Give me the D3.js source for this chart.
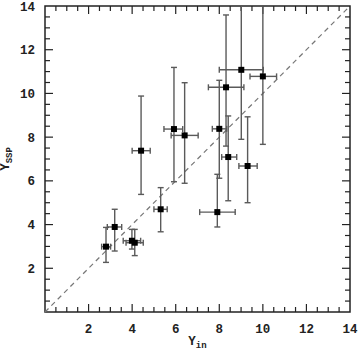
<!DOCTYPE html>
<html>
<head>
<meta charset="utf-8">
<script src="https://cdn.jsdelivr.net/npm/d3@7"></script>
<style>
  html, body { margin: 0; padding: 0; background: #fff; }
  svg { display: block; }
</style>
</head>
<body>
<svg id="chart" width="358" height="352"></svg>
<script>
// Upsilon_in vs Upsilon_SSP, with asymmetric errors
var upsIn   = [4.41, 5.92, 6.41, 8.00, 9.01, 10.00, 8.31, 9.30, 2.80, 3.20, 3.99, 4.12, 5.31, 7.91, 8.41];
var inLo    = [0.41, 0.46, 0.62, 0.32, 1.01, 0.59, 0.81, 0.40, 0.20, 0.34, 0.40, 0.40, 0.31, 0.81, 0.30];
var inHi    = [0.42, 0.40, 0.62, 0.34, 1.01, 0.63, 0.82, 0.44, 0.21, 0.32, 0.40, 0.39, 0.30, 0.82, 0.39];
var upsSsp  = [7.38, 8.37, 8.08, 8.38, 11.08, 10.78, 10.28, 6.68, 2.99, 3.89, 3.26, 3.17, 4.70, 4.57, 7.09];
var sspLo   = [2.00, 2.41, 2.19, 2.26, 3.18, 3.11, 2.69, 1.68, 0.72, 1.10, 0.38, 0.59, 1.03, 0.68, 2.00];
var sspHi   = [2.50, 2.82, 2.41, 2.22, 3.40, 3.40, 3.31, 2.25, 0.88, 0.81, 0.52, 0.61, 0.99, 1.73, 1.88];

var xTicks = [2, 4, 6, 8, 10, 12, 14];
var yTicks = [2, 4, 6, 8, 10, 12, 14];

var margin = { left: 45, top: 6, right: 8, bottom: 40 };
var width = 358, height = 352;
var plotW = width - margin.left - margin.right;
var plotH = height - margin.top - margin.bottom;

var svg = d3.select("#chart");
var g = svg.append("g").attr("transform", "translate(" + margin.left + "," + margin.top + ")");

var x = d3.scaleLinear().domain([0, 14]).range([0, plotW]);
var y = d3.scaleLinear().domain([0, 14]).range([plotH, 0]);

var font = "'Liberation Mono', 'Courier New', monospace";
var axisColor = "#222";

g.append("defs").append("clipPath").attr("id", "clip")
  .append("rect").attr("width", plotW).attr("height", plotH);

// ticks on all four sides, pointing inward
var minor = d3.range(0.5, 14, 0.5);
function isMajor(v) { return Math.abs(v / 2 - Math.round(v / 2)) < 1e-6; }

var ticks = g.append("g").attr("stroke", axisColor).attr("stroke-width", 1.2);
minor.forEach(function(v) {
  var len = isMajor(v) ? 8 : 5;
  ticks.append("line").attr("x1", x(v)).attr("x2", x(v)).attr("y1", plotH).attr("y2", plotH - len);
  ticks.append("line").attr("x1", x(v)).attr("x2", x(v)).attr("y1", 0).attr("y2", len);
  ticks.append("line").attr("y1", y(v)).attr("y2", y(v)).attr("x1", 0).attr("x2", len);
  ticks.append("line").attr("y1", y(v)).attr("y2", y(v)).attr("x1", plotW).attr("x2", plotW - len);
});

// frame
g.append("rect").attr("width", plotW).attr("height", plotH)
  .attr("fill", "none").attr("stroke", axisColor).attr("stroke-width", 1.5);

// one-to-one line
g.append("line")
  .attr("x1", x(0)).attr("y1", y(0)).attr("x2", x(14)).attr("y2", y(14))
  .attr("stroke", "#777").attr("stroke-width", 1.2).attr("stroke-dasharray", "5,4");

// error bars
var pts = upsIn.map(function(v, i) {
  return { x: v, y: upsSsp[i], xl: v - inLo[i], xh: v + inHi[i], yl: upsSsp[i] - sspLo[i], yh: upsSsp[i] + sspHi[i] };
});

var err = g.append("g").attr("clip-path", "url(#clip)")
  .attr("stroke", "#5a5a5a").attr("stroke-width", 1.4).attr("fill", "none");
var cap = 3;
pts.forEach(function(d) {
  err.append("line").attr("x1", x(d.x)).attr("x2", x(d.x)).attr("y1", y(d.yl)).attr("y2", y(d.yh));
  err.append("line").attr("x1", x(d.x) - cap).attr("x2", x(d.x) + cap).attr("y1", y(d.yl)).attr("y2", y(d.yl));
  err.append("line").attr("x1", x(d.x) - cap).attr("x2", x(d.x) + cap).attr("y1", y(d.yh)).attr("y2", y(d.yh));
  err.append("line").attr("x1", x(d.xl)).attr("x2", x(d.xh)).attr("y1", y(d.y)).attr("y2", y(d.y));
  err.append("line").attr("x1", x(d.xl)).attr("x2", x(d.xl)).attr("y1", y(d.y) - cap).attr("y2", y(d.y) + cap);
  err.append("line").attr("x1", x(d.xh)).attr("x2", x(d.xh)).attr("y1", y(d.y) - cap).attr("y2", y(d.y) + cap);
});

var ms = 6;
g.append("g").selectAll("rect").data(pts).enter().append("rect")
  .attr("x", function(d) { return x(d.x) - ms / 2; })
  .attr("y", function(d) { return y(d.y) - ms / 2; })
  .attr("width", ms).attr("height", ms)
  .attr("fill", "#000");

// tick labels
g.append("g").selectAll("text").data(xTicks).enter().append("text")
  .attr("x", function(d) { return x(d); })
  .attr("y", plotH + 21)
  .attr("text-anchor", "middle")
  .attr("font-family", font).attr("font-weight", "bold").attr("font-size", "12.5px")
  .attr("fill", "#222")
  .text(function(d) { return d; });

g.append("g").selectAll("text").data(yTicks).enter().append("text")
  .attr("x", -10)
  .attr("y", function(d) { return y(d) + 4.5; })
  .attr("text-anchor", "end")
  .attr("font-family", font).attr("font-weight", "bold").attr("font-size", "12.5px")
  .attr("fill", "#222")
  .text(function(d) { return d; });

// axis titles
var xt = g.append("text")
  .attr("x", plotW / 2).attr("y", plotH + 33)
  .attr("text-anchor", "middle")
  .attr("font-family", font).attr("font-weight", "bold").attr("font-size", "12.5px")
  .attr("fill", "#222");
xt.append("tspan").text("Υ");
xt.append("tspan").attr("font-size", "9px").attr("dy", 2.5).text("in");

var yt = g.append("text")
  .attr("transform", "translate(" + (-36) + "," + (plotH / 2) + ") rotate(-90)")
  .attr("text-anchor", "middle")
  .attr("font-family", font).attr("font-weight", "bold").attr("font-size", "12.5px")
  .attr("fill", "#222");
yt.append("tspan").text("Υ");
yt.append("tspan").attr("font-size", "9px").attr("dy", 3).text("SSP");
</script>
</body>
</html>
